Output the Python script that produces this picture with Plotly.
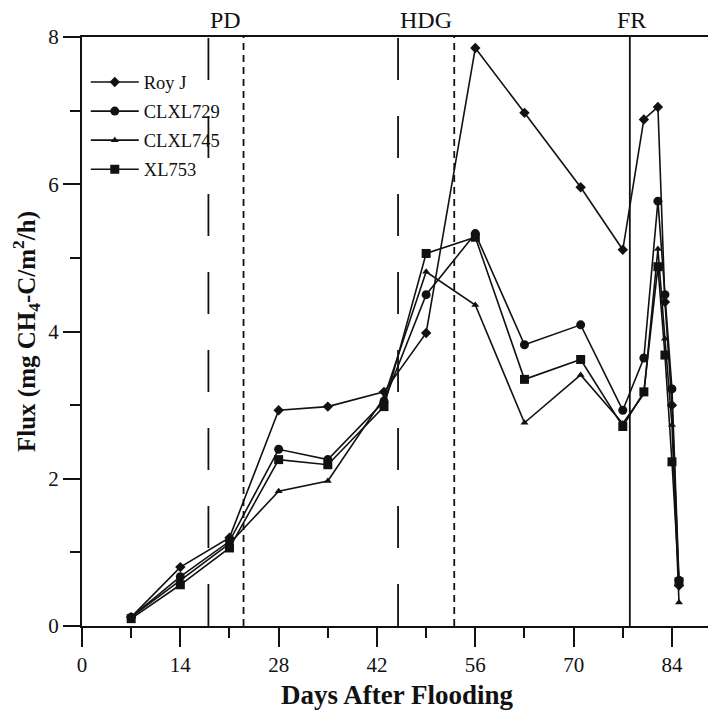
import plotly.graph_objects as go

days = [7, 14, 21, 28, 35, 43, 49, 56, 63, 71, 77, 80, 82, 83, 84, 85]
roy_j = [0.12, 0.80, 1.20, 2.93, 2.98, 3.18, 3.98, 7.85, 6.97, 5.96, 5.11, 6.88, 7.05, 4.40, 3.00, 0.55]
clxl729 = [0.12, 0.67, 1.15, 2.40, 2.26, 3.05, 4.50, 5.33, 3.82, 4.09, 2.93, 3.64, 5.77, 4.50, 3.22, 0.62]
clxl745 = [0.12, 0.62, 1.12, 1.83, 1.97, 3.10, 4.81, 4.36, 2.76, 3.41, 2.75, 3.15, 5.12, 3.90, 2.73, 0.32]
xl753 = [0.10, 0.56, 1.06, 2.26, 2.19, 2.98, 5.06, 5.28, 3.35, 3.62, 2.71, 3.18, 4.88, 3.68, 2.23, 0.60]

series_names = ["Roy J", "CLXL729", "CLXL745", "XL753"]
series_values = [roy_j, clxl729, clxl745, xl753]
series_symbols = ["diamond", "circle", "triangle-up", "square"]
series_sizes = [8, 9, 7, 9]

# event markers (days)
event_lines = [18, 23, 45, 53, 78]
event_dash = ["42px,36px", "7px,5px", "42px,36px", "7px,5px", "solid"]
event_labels = ["PD", "HDG", "FR"]
event_label_x = [20.5, 49, 78.3]

x_ticks = [0, 14, 28, 42, 56, 70, 84]
y_ticks = [0, 2, 4, 6, 8]

FONT = "Liberation Serif, Times New Roman, serif"
INK = "#111111"

fig = go.Figure()
for i, (name, vals, sym, sz) in enumerate(zip(series_names, series_values, series_symbols, series_sizes)):
    fig.add_trace(go.Scatter(
        x=days, y=vals, name=name, mode="lines+markers",
        legendgroup=f"g{i}",
        line=dict(color=INK, width=1.6),
        marker=dict(symbol=sym, size=sz, color=INK),
    ))

for xv, dash in zip(event_lines, event_dash):
    fig.add_shape(type="line", xref="x", yref="paper", x0=xv, x1=xv, y0=0, y1=1,
                  line=dict(color=INK, width=1.8, dash=dash))

for lab, xv in zip(event_labels, event_label_x):
    fig.add_annotation(x=xv, xref="x", y=1.0, yref="paper", yshift=2, text=lab,
                       showarrow=False, yanchor="bottom",
                       font=dict(family=FONT, size=24, color=INK))

fig.update_layout(
    width=708, height=708,
    margin=dict(l=74, r=4, t=29, b=90, autoexpand=False),
    paper_bgcolor="white", plot_bgcolor="white",
    font=dict(family=FONT, size=20, color=INK),
    showlegend=True,
    legend=dict(x=0.006, y=0.955, xanchor="left", yanchor="top",
                bgcolor="rgba(0,0,0,0)", tracegroupgap=2, itemwidth=48,
                font=dict(family=FONT, size=18.5, color=INK)),
    xaxis=dict(
        range=[0, 89.7], tickvals=x_ticks, ticktext=[str(t) for t in x_ticks],
        ticks="outside", ticklen=19, tickwidth=1.8, tickcolor=INK,
        minor=dict(dtick=7, tick0=0, ticks="outside", ticklen=10, tickwidth=1.5, tickcolor=INK),
        showline=True, linecolor=INK, linewidth=2, mirror=True,
        showgrid=False, zeroline=False, automargin=False,
        tickfont=dict(family=FONT, size=21, color=INK),
        title=dict(text="<b>Days After Flooding</b>", font=dict(family=FONT, size=27, color=INK), standoff=9),
    ),
    yaxis=dict(
        range=[0, 8], tickvals=y_ticks, ticktext=[str(t) for t in y_ticks],
        ticks="outside", ticklen=17, tickwidth=1.8, tickcolor=INK,
        minor=dict(dtick=1, tick0=0, ticks="outside", ticklen=10, tickwidth=1.5, tickcolor=INK),
        showline=True, linecolor=INK, linewidth=2, mirror=False,
        showgrid=False, zeroline=False, automargin=False,
        tickfont=dict(family=FONT, size=21, color=INK),
        title=dict(text="<b>Flux (mg CH<sub>4</sub>-C/m<sup>2</sup>/h)</b>",
                   font=dict(family=FONT, size=25, color=INK), standoff=12),
    ),
)

fig.write_html("out.html")
